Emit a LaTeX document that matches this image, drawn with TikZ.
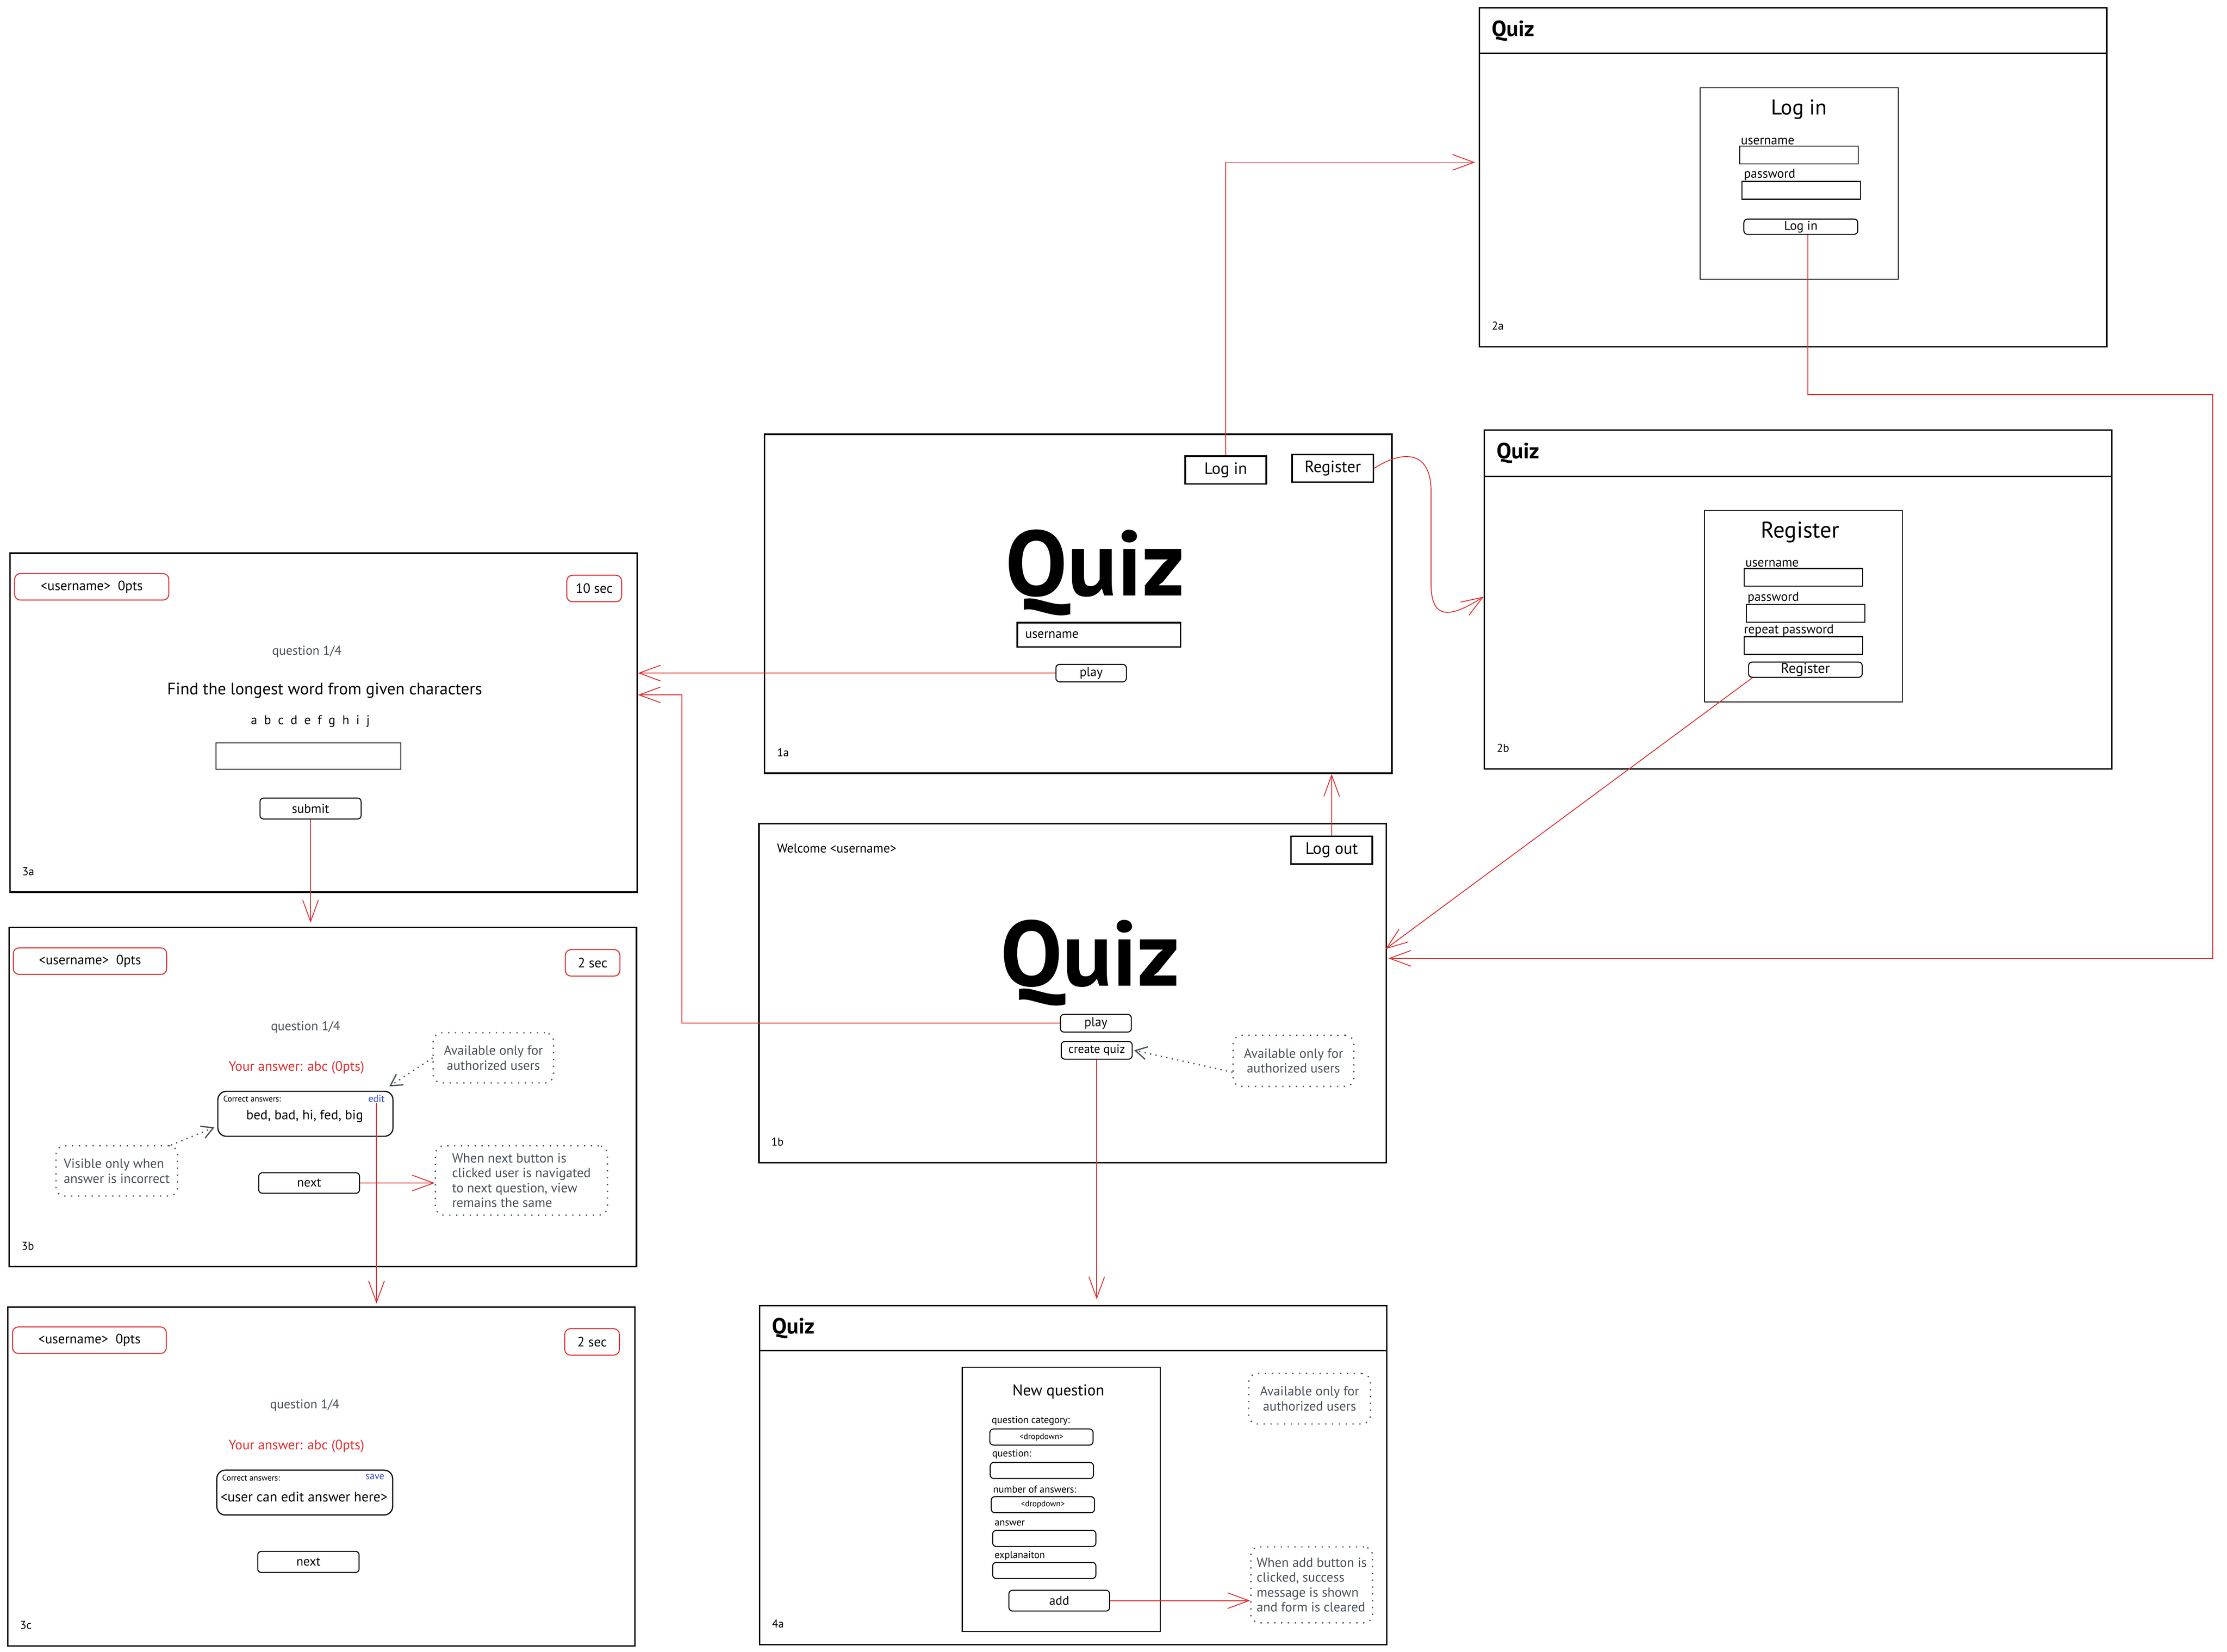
\documentclass[tikz,border=0pt]{standalone}
\usepackage{fontspec}
\setmainfont{PT Sans}
\usetikzlibrary{arrows.meta,positioning}
\definecolor{quizred}{RGB}{224,49,49}
\definecolor{notegray}{RGB}{73,80,87}
\definecolor{linkblue}{RGB}{57,80,210}

\begin{document}
\begin{tikzpicture}[x=1pt, y=-1pt,
    screen/.style={draw, line width=1pt, inner sep=0pt, anchor=north west, minimum width=440.5pt, minimum height=238pt},
    panel/.style={draw, line width=0.7pt, inner sep=0pt},
    field/.style={draw, line width=0.7pt, inner sep=0pt, minimum width=83.3pt, minimum height=12.5pt},
    btn/.style={draw, line width=0.7pt, rounded corners=2.5pt, inner sep=0pt},
    slot/.style={btn, minimum width=72.5pt, minimum height=11.3pt},
    topbtn/.style={draw, line width=1.1pt, inner sep=0pt, minimum width=57pt, minimum height=19.5pt, font=\fontsize{11.5}{13}\selectfont},
    scorebox/.style={draw=quizred, line width=0.7pt, rounded corners=4pt, inner sep=0pt, minimum height=18.6pt, font=\fontsize{9.5}{11}\selectfont},
    answerbox/.style={draw, line width=0.8pt, rounded corners=6pt, inner sep=0pt, minimum width=123.5pt, minimum height=31.5pt},
    note/.style={draw=notegray, line width=0.9pt, dash pattern=on 0.9pt off 3.9pt, rounded corners=6pt, inner sep=0pt, text=notegray, font=\fontsize{9.3}{10.5}\selectfont},
    flow/.style={draw=quizred, line width=0.6pt, -{Straight Barb[length=15pt,width=11pt]}},
    hint/.style={draw=notegray, line width=0.9pt, dash pattern=on 0.9pt off 3pt, -{Straight Barb[length=8pt,width=9pt]}},
    tiny/.style={inner sep=0pt, font=\fontsize{5.8}{7}\selectfont},
    small/.style={inner sep=0pt, font=\fontsize{7}{8}\selectfont},
    body/.style={inner sep=0pt, font=\fontsize{9}{10.5}\selectfont},
    heading/.style={inner sep=0pt, font=\fontsize{15.5}{17}\selectfont\bfseries},
    logo/.style={inner sep=0pt, font=\fontsize{65}{72}\selectfont\bfseries},
    given/.style={inner sep=0pt, text=quizred, font=\fontsize{9.6}{11}\selectfont},
    tag/.style={inner sep=0pt, font=\fontsize{8}{9}\selectfont},
  ]
  \useasboundingbox (0,0) rectangle (1564,1160);

  \node[screen] (f1a) at (536.5,304.5) {};
  \node[screen] (f1b) at (532.5,578) {};
  \node[screen] (f2a) at (1038.5,5) {};
  \node[screen] (f2b) at (1042,301.5) {};
  \node[screen] (f3a) at (6.5,388) {};
  \node[screen] (f3b) at (6,651) {};
  \node[screen] (f3c) at (5,917.5) {};
  \node[screen] (f4a) at (533,916.5) {};

  \node[tag, above right=12pt and 9pt of f1a.south west] {1a};
  \node[tag, above right=12pt and 9pt of f1b.south west] {1b};
  \node[tag, above right=12pt and 9pt of f2a.south west] {2a};
  \node[tag, above right=12pt and 9pt of f2b.south west] {2b};
  \node[tag, above right=12pt and 9pt of f3a.south west] {3a};
  \node[tag, above right=12pt and 9pt of f3b.south west] {3b};
  \node[tag, above right=12pt and 9pt of f3c.south west] {3c};
  \node[tag, above right=12pt and 9pt of f4a.south west] {4a};

  \node[topbtn] (login1a) at (860.8,330.1) {Log in};
  \node[topbtn] (reg1a) at (936,328.9) {Register};
  \node[logo] (logo1a) at (769,402) {Quiz};
  \node[panel, line width=1.1pt, minimum width=114.7pt, minimum height=17pt] (name1a) at (771.7,445.8) {};
  \node[body, right=6pt of name1a.west] {username};
  \node[btn, body, minimum width=49.5pt, minimum height=12.2pt] (play1a) at (766.3,472.7) {play};

  \node[body, anchor=west] (welcome1b) at (545.5,595.6) {Welcome <username>};
  \node[topbtn] (logout1b) at (935.2,597) {Log out};
  \node[logo] (logo1b) at (765.5,676) {Quiz};
  \node[btn, body, minimum width=49.8pt, minimum height=12.4pt] (play1b) at (769.6,718.6) {play};
  \node[btn, minimum width=49.8pt, minimum height=12.4pt, font=\fontsize{8.5}{10}\selectfont] (create1b) at (770.2,737.6) {create quiz};
  \node[note, minimum width=84.8pt, minimum height=35.9pt, align=center] (note1b) at (908.4,745) {Available only for\\authorized users};

  \node[screen, minimum height=32pt] (h2a) at (f2a.north west) {};
  \node[heading, right=9pt of h2a.west] {Quiz};
  \node[panel, minimum width=139.3pt, minimum height=134.5pt] (form2a) at (1263.6,128.9) {};
  \node[inner sep=0pt, font=\fontsize{15}{17}\selectfont] (title2a) at (1263.5,76.7) {Log in};
  \node[field] (user2a) at (1263.4,108.8) {};
  \node[field] (pass2a) at (1265,133.7) {};
  \node[body, above right=0.5pt and 1pt of user2a.north west] {username};
  \node[body, above right=0pt and 1.5pt of pass2a.north west] {password};
  \node[btn, body, minimum width=80pt, minimum height=10.7pt] (btn2a) at (1264.7,159.2) {Log in};

  \node[screen, minimum height=32.5pt] (h2b) at (f2b.north west) {};
  \node[heading, right=9pt of h2b.west] {Quiz};
  \node[panel, minimum width=139pt, minimum height=134.4pt] (form2b) at (1266.5,425.7) {};
  \node[inner sep=0pt, font=\fontsize{16}{18}\selectfont] (title2b) at (1264.2,373.8) {Register};
  \node[field] (user2b) at (1266.5,405.5) {};
  \node[field] (pass2b) at (1268.1,430.7) {};
  \node[field] (again2b) at (1266.5,453.4) {};
  \node[body, above right=0.5pt and 1pt of user2b.north west] {username};
  \node[body, above right=0pt and 1pt of pass2b.north west] {password};
  \node[body, above right=0pt and 0pt of again2b.north west] {repeat password};
  \node[btn, minimum width=79.8pt, minimum height=10.7pt, font=\fontsize{10}{12}\selectfont] (btn2b) at (1267.9,470.3) {Register};

  \node[scorebox, minimum width=108.3pt] (score3a) at (64.4,412.1) {<username>\ \ 0pts};
  \node[scorebox, minimum width=38.5pt] (timer3a) at (417.3,413.3) {10 sec};
  \node[body, text=notegray] (count3a) at (215.5,457.8) {question 1/4};
  \node[inner sep=0pt, font=\fontsize{11.7}{13}\selectfont] (task3a) at (228,484.8) {Find the longest word from given characters};
  \node[body] (chars3a) at (218,506.4) {a~ b~ c~ d~ e~ f~ g~ h~ i~ j};
  \node[panel, minimum width=130pt, minimum height=18.3pt] (input3a) at (216.6,531) {};
  \node[btn, body, minimum width=71pt, minimum height=14.7pt] (submit3a) at (218.1,567.8) {submit};

  \node[scorebox, minimum width=107.7pt] (score3b) at (63.2,675) {<username>\ \ 0pts};
  \node[scorebox, minimum width=38.3pt] (timer3b) at (416.2,676.2) {2 sec};
  \node[body, text=notegray] (count3b) at (214.6,721.3) {question 1/4};
  \node[given] (given3b) at (208.2,749.8) {Your answer: abc (0pts)};
  \node[answerbox, minimum width=123pt, minimum height=31.6pt] (correct3b) at (214.5,782.2) {};
  \node[tiny, below right=3.5pt and 4pt of correct3b.north west] {Correct answers:};
  \node[small, text=linkblue, below left=3pt and 6pt of correct3b.north east] (edit3b) {edit};
  \node[inner sep=0pt, font=\fontsize{9.5}{11}\selectfont] (words3b) at (214,784) {bed, bad, hi, fed, big};
  \node[note, minimum width=84.5pt, minimum height=35.2pt, align=center] (notea3b) at (346.5,742.9) {Available only for\\authorized users};
  \node[note, minimum width=85.3pt, minimum height=35.3pt, align=left] (notev3b) at (82,822.3) {Visible only when\\answer is incorrect};
  \node[btn, body, minimum width=70.8pt, minimum height=14.4pt] (next3b) at (217.1,830.8) {next};
  \node[note, minimum width=120.8pt, minimum height=48.7pt, align=left] (notew3b) at (366.2,829) {When next button is\\clicked user is navigated\\to next question, view\\remains the same};

  \node[scorebox, minimum width=108pt] (score3c) at (62.8,941.2) {<username>\ \ 0pts};
  \node[scorebox, minimum width=38.4pt] (timer3c) at (415.8,942.4) {2 sec};
  \node[body, text=notegray] (count3c) at (214,987) {question 1/4};
  \node[given] (given3c) at (208.2,1015.7) {Your answer: abc (0pts)};
  \node[answerbox] (correct3c) at (214,1048.2) {};
  \node[tiny, below right=3.5pt and 4pt of correct3c.north west] {Correct answers:};
  \node[small, text=linkblue, below left=3pt and 6pt of correct3c.north east] (save3c) {save};
  \node[inner sep=0pt, font=\fontsize{9.8}{11}\selectfont] (edit3c) at (213.5,1051.3) {<user can edit answer here>};
  \node[btn, body, minimum width=71.2pt, minimum height=14.8pt] (next3c) at (216.6,1096.9) {next};

  \node[screen, minimum height=31.5pt] (h4a) at (f4a.north west) {};
  \node[heading, right=9pt of h4a.west] {Quiz};
  \node[panel, minimum width=139pt, minimum height=185.4pt] (form4a) at (745.3,1053) {};
  \node[inner sep=0pt, font=\fontsize{11}{13}\selectfont] (title4a) at (743.3,977.3) {New question};
  \node[slot, tiny] (cat4a) at (731.4,1009.2) {<dropdown>};
  \node[slot] (text4a) at (731.7,1032.7) {};
  \node[slot, tiny] (num4a) at (732.4,1056.7) {<dropdown>};
  \node[slot] (ans4a) at (733.4,1080.4) {};
  \node[slot] (expl4a) at (733.4,1102.9) {};
  \node[small, above right=2pt and 1.5pt of cat4a.north west] {question category:};
  \node[small, above right=2pt and 1.5pt of text4a.north west] {question:};
  \node[small, above right=2pt and 1.5pt of num4a.north west] {number of answers:};
  \node[small, above right=2.5pt and 1.5pt of ans4a.north west] {answer};
  \node[small, above right=1pt and 1.5pt of expl4a.north west] {explanaiton};
  \node[btn, body, minimum width=70.7pt, minimum height=14.6pt] (add4a) at (743.9,1124.1) {add};
  \node[note, minimum width=85.4pt, minimum height=35.4pt, align=center] (note4a) at (919.7,982.3) {Available only for\\authorized users};
  \node[note, minimum width=85.5pt, minimum height=53.3pt, align=left] (info4a) at (921.2,1113) {When add button is\\clicked, success\\message is shown\\and form is cleared};

  \coordinate (to2a) at (1036,114);
  \coordinate (to2b) at (1042,419);
  \coordinate (turn2a) at (1554,277);
  \coordinate (to1b) at (975,673);
  \coordinate (from2b) at (973,666.5);
  \coordinate (turn1b) at (479,488);

  \draw[flow] (play1a.west) -- (play1a.west -| f3a.east);
  \draw[flow] (play1b.west) -| (turn1b) -- (turn1b -| f3a.east);
  \draw[flow] (login1a.north) |- (to2a);
  \draw[flow] (reg1a.east) .. controls (985,316) and (1005,316) .. (1005,345) -- (1005,410) .. controls (1005,437) and (1020,433) .. (to2b);
  \draw[flow] ([xshift=5pt]btn2a.south) |- (turn2a) |- (to1b);
  \draw[flow] ([xshift=3pt]btn2b.south west) -- (from2b);
  \draw[flow] (logout1b.north) -- (logout1b.north |- f1a.south);
  \draw[flow, shorten >=4pt] (create1b.south) -- (create1b.south |- f4a.north);
  \draw[flow, shorten >=3pt] (submit3a.south) -- (submit3a.south |- f3b.north);
  \draw[flow, shorten >=2pt] (edit3b.south) -- (edit3b.south |- f3c.north);
  \draw[flow] (next3b.east) -- (next3b.east -| notew3b.west);
  \draw[flow] (add4a.east) -- (add4a.east -| info4a.west);

  \draw[hint] (notea3b.west) -- ([xshift=-3pt,yshift=3pt]correct3b.north east);
  \draw[hint] ([xshift=-5pt]notev3b.north east) -- ([xshift=-2pt,yshift=-9.5pt]correct3b.west);
  \draw[hint] ([yshift=-8pt]note1b.west) -- ([xshift=1pt]create1b.east);
\end{tikzpicture}
\end{document}
